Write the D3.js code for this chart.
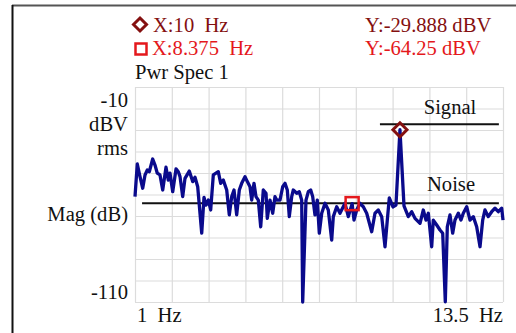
<!DOCTYPE html>
<html><head><meta charset="utf-8">
<script src="https://cdn.jsdelivr.net/npm/d3@7/dist/d3.min.js"></script>
<style>
html,body{margin:0;padding:0;background:#fff;overflow:hidden}
text{font-family:"Liberation Serif","Times New Roman",serif;white-space:pre}
</style>
</head><body><svg id="c" width="516" height="333"></svg>
<script>
// ---- data ----
const freqs = [1.000,1.078,1.170,1.262,1.340,1.418,1.486,1.601,1.679,1.757,1.849,1.941,2.053,2.131,2.189,2.281,2.393,2.471,2.529,2.620,
  2.698,2.844,2.960,3.038,3.130,3.266,3.344,3.412,3.490,3.571,3.660,3.751,3.829,3.911,3.999,4.115,4.203,4.285,4.363,4.454,
  4.543,4.624,4.736,4.815,4.906,4.964,5.042,5.110,5.188,5.270,5.358,5.450,5.494,5.586,5.677,5.755,5.813,5.925,6.017,6.095,
  6.173,6.241,6.323,6.377,6.493,6.581,6.662,6.696,6.808,6.887,6.968,7.036,7.114,7.192,7.260,7.342,7.454,7.566,7.681,7.736,
  7.851,7.963,8.133,8.245,8.375,8.439,8.530,8.643,8.755,8.870,9.040,9.152,9.264,9.380,9.492,9.570,9.638,9.763,9.865,10.000,
  10.137,10.283,10.399,10.511,10.681,10.793,10.884,10.963,11.078,11.132,11.248,11.360,11.452,11.540,11.608,11.700,11.791,11.869,11.982,12.073,
  12.151,12.267,12.379,12.491,12.606,12.719,12.810,12.888,13.001,13.116,13.228,13.340,13.456,13.500];
const magDb = [-61.0,-45.8,-51.7,-57.1,-50.9,-48.6,-49.4,-43.5,-46.3,-50.1,-50.9,-57.9,-47.3,-53.3,-50.1,-58.7,-48.1,-49.4,-51.7,-61.0,
  -52.5,-49.1,-54.0,-52.0,-56.4,-78.0,-61.3,-64.9,-62.6,-67.2,-50.9,-50.1,-49.4,-54.8,-53.3,-57.9,-69.5,-61.0,-57.9,-69.5,
  -57.9,-54.8,-51.7,-54.0,-56.4,-62.6,-54.8,-61.0,-62.6,-75.0,-57.9,-59.4,-71.1,-62.6,-68.7,-61.0,-62.6,-62.6,-56.4,-54.8,
  -57.9,-70.3,-61.0,-57.9,-59.4,-58.7,-62.6,-110.0,-62.6,-58.7,-57.9,-61.0,-69.5,-62.6,-78.0,-68.7,-64.1,-67.2,-81.2,-70.3,
  -65.7,-68.7,-64.1,-70.3,-64.25,-71.9,-67.2,-64.1,-65.7,-68.7,-77.3,-68.7,-67.2,-70.3,-84.3,-71.9,-61.6,-65.8,-64.9,-29.888,
  -65.3,-70.3,-68.0,-71.1,-73.4,-67.2,-71.9,-68.7,-84.3,-71.9,-74.2,-76.5,-78.0,-109.9,-75.0,-69.5,-78.0,-71.9,-68.7,-71.9,
  -68.7,-65.7,-71.9,-70.3,-75.0,-84.3,-71.9,-67.2,-70.3,-68.0,-66.4,-68.0,-66.4,-71.9];
const xDomain = [1, 13.5];
const yDomain = [-110, -10];
const xGridValues = [1,2.25,3.5,4.75,6,7.25,8.5,9.75,11,12.25,13.5];
const yGridValues = [-110,-100,-90,-80,-70,-60,-50,-40,-30,-20,-10];
const diamondMarker = {f: 10, db: -29.888};
const squareMarker = {f: 8.375, db: -64.25};
const signalLine = {f0: 9.32, f1: 13.36, db: -27.35, label: "Signal"};
const noiseLine = {f0: 1.24, f1: 13.36, db: -64.1, label: "Noise"};
const legendX = ["X:10  Hz", "X:8.375  Hz"];
const legendY = ["Y:-29.888 dBV", "Y:-64.25 dBV"];
const traceName = "Pwr Spec 1";
const yTopLabel = "-10", yBottomLabel = "-110";
const yUnitLabels = ["dBV", "rms"];
const yAxisTitle = "Mag (dB)";
const xLeftLabel = "1  Hz", xRightLabel = "13.5  Hz";

// ---- drawing ----
const svg = d3.select("#c");
const L = 135, R = 503, T = 87, B = 302;
const x = d3.scaleLinear().domain(xDomain).range([L, R]);
const y = d3.scaleLinear().domain(yDomain).range([B, T]);
const FS = 20, SX = 1.03;
const darkRed = "#841010", red = "#e4181c", navy = "#0a0a8c";

function txt(s, px, py, opts = {}) {
  return svg.append("text")
    .attr("transform", `translate(${px},${py}) scale(${SX},1)`)
    .attr("font-size", opts.fs || FS)
    .attr("fill", opts.fill || "#111")
    .attr("text-anchor", opts.anchor || "start")
    .text(s);
}

// frame
svg.append("line").attr("x1", 12).attr("x2", 516).attr("y1", 5.5).attr("y2", 5.5)
  .attr("stroke", "#555").attr("stroke-width", 2);
svg.append("line").attr("x1", 12.5).attr("x2", 12.5).attr("y1", 5).attr("y2", 333)
  .attr("stroke", "#111").attr("stroke-width", 2);

// grid via axes
const gx = svg.append("g").attr("transform", `translate(0,${B})`)
  .call(d3.axisBottom(x).tickValues(xGridValues).tickSize(-(B - T)).tickFormat(""));
const gy = svg.append("g").attr("transform", `translate(${L},0)`)
  .call(d3.axisLeft(y).tickValues(yGridValues).tickSize(-(R - L)).tickFormat(""));
[gx, gy].forEach(g => {
  g.select(".domain").remove();
  g.selectAll(".tick line").attr("stroke", "#dcdcdc").attr("stroke-width", 1.2);
});

// reference lines
[signalLine, noiseLine].forEach(l => {
  svg.append("line").attr("x1", x(l.f0)).attr("x2", x(l.f1))
    .attr("y1", y(l.db)).attr("y2", y(l.db))
    .attr("stroke", "#111").attr("stroke-width", 2);
});
txt(signalLine.label, 450, 114, {anchor: "middle"});
txt(noiseLine.label, 451, 191, {anchor: "middle"});

// trace
const data = freqs.map((f, i) => [f, magDb[i]]);
svg.append("path").datum(data)
  .attr("fill", "none").attr("stroke", navy).attr("stroke-width", 3.3)
  .attr("stroke-linejoin", "round")
  .attr("d", d3.line().x(d => x(d[0])).y(d => y(Math.max(d[1], yDomain[0]))));

// markers
const diamondPath = (cx, cy, r) => `M${cx},${cy - r}L${cx + r},${cy}L${cx},${cy + r}L${cx - r},${cy}Z`;
svg.append("path").attr("d", diamondPath(x(diamondMarker.f), y(diamondMarker.db), 7))
  .attr("fill", "none").attr("stroke", darkRed).attr("stroke-width", 3);
svg.append("rect").attr("x", x(squareMarker.f) - 6.5).attr("y", y(squareMarker.db) - 6.5)
  .attr("width", 13).attr("height", 13)
  .attr("fill", "none").attr("stroke", red).attr("stroke-width", 2.5);

// legend
svg.append("path").attr("d", diamondPath(140, 24.5, 6.5))
  .attr("fill", "none").attr("stroke", darkRed).attr("stroke-width", 3);
svg.append("rect").attr("x", 135.5).attr("y", 43.5).attr("width", 11).attr("height", 11)
  .attr("fill", "none").attr("stroke", red).attr("stroke-width", 2.5);
txt(legendX[0], 153, 32, {fill: darkRed});
txt(legendY[0], 365, 32, {fill: darkRed});
txt(legendX[1], 152, 55, {fill: red});
txt(legendY[1], 365, 55, {fill: red});
txt(traceName, 135, 79);

// y labels
txt(yTopLabel, 128, 107, {anchor: "end"});
txt(yUnitLabels[0], 128, 131, {anchor: "end"});
txt(yUnitLabels[1], 128, 155, {anchor: "end"});
txt(yAxisTitle, 128, 221, {anchor: "end"});
txt(yBottomLabel, 128, 299, {anchor: "end"});

// x labels
txt(xLeftLabel, 137, 322);
txt(xRightLabel, 503, 322, {anchor: "end"});
</script>
</body></html>
